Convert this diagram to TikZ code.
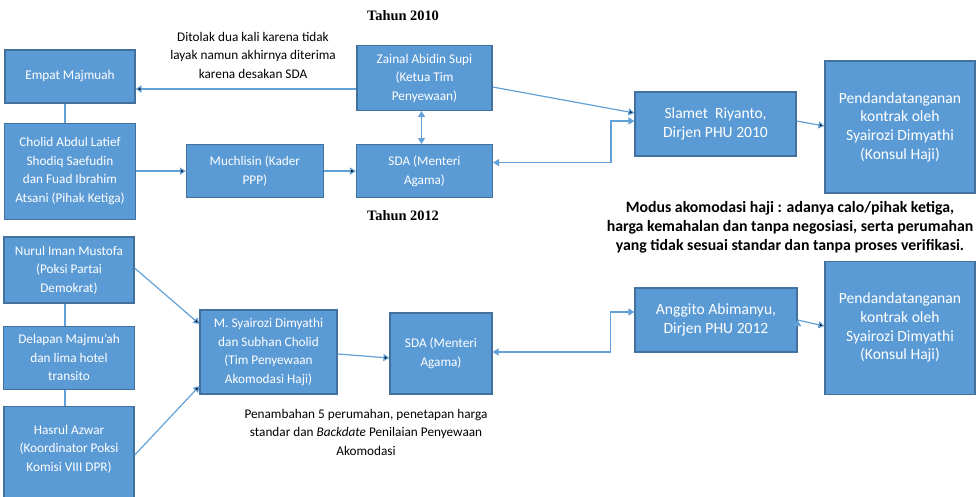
\documentclass[tikz,border=0pt]{standalone}
\usepackage{fontspec}
\setmainfont{Carlito}
\newfontfamily\yearfont{Liberation Serif}
\usetikzlibrary{arrows.meta,positioning}

\definecolor{boxfill}{RGB}{91,155,213}
\definecolor{boxline}{RGB}{65,113,156}
\definecolor{linkline}{RGB}{98,160,216}

\begin{document}
\begin{tikzpicture}[x=1pt,y=-1pt,>={Triangle[length=6pt,width=7pt]},
		every node/.style={font=\fontsize{13.25}{18.5}\selectfont,align=center},
		box/.style={draw=boxline,line width=1.1pt,fill=boxfill,text=white,inner sep=2pt},
		bigtext/.style={font=\fontsize{15.6}{18.7}\selectfont},
		link/.style={draw=linkline,line width=1.2pt},
		year/.style={font=\yearfont\bfseries\fontsize{14.4}{17}\selectfont}]
		 \useasboundingbox (0,0) rectangle (977,497);
		 % Tahun 2010
		 \node[box,minimum width=130pt,minimum height=53pt]           (empat)                        at (70,76.5)     {Empat Majmuah};
		 \node[box,minimum width=131pt,minimum height=96pt]           (cholid)    [below=19pt of empat]                  {Cholid Abdul Latief\\Shodiq Saefudin\\dan Fuad Ibrahim\\Atsani (Pihak Ketiga)};
		 \node[box,minimum width=135pt,minimum height=65pt]           (zainal)                       at (424.5,78)    {Zainal Abidin Supi\\(Ketua Tim\\Penyewaan)};
		 \node[box,minimum width=136pt,minimum height=53pt]           (sda1)      [below=33pt of zainal]                 {SDA (Menteri\\Agama)};
		 \node[box,minimum width=137pt,minimum height=53pt]           (muchlisin) [left=32pt of sda1]                    {Muchlisin (Kader\\PPP)};
		 \node[box,bigtext,minimum width=161pt,minimum height=64pt]   (slamet)                       at (715.5,124)   {Slamet\ \ Riyanto,\\Dirjen PHU 2010};
		 \node[box,bigtext,minimum width=150pt,minimum height=132pt]  (pend1)                        at (900,127)     {Pendandatanganan\\kontrak oleh\\Syairozi Dimyathi\\(Konsul Haji)};
		 % Tahun 2012
		 \node[box,minimum width=130pt,minimum height=66pt]           (nurul)                        at (69,270)      {Nurul Iman Mustofa\\(Poksi Partai\\Demokrat)};
		 \node[box,minimum width=131pt,minimum height=63pt]           (delapan)   [below=22pt of nurul]                  {Delapan Majmu’ah\\dan lima hotel\\transito};
		 \node[box,minimum width=130pt,minimum height=123pt]          (hasrul)    [below=16pt of delapan]                {\raisebox{15.2pt}[0pt][0pt]{\begin{tabular}{@{}c@{}}Hasrul Azwar\\(Koordinator Poksi\\Komisi VIII DPR)\end{tabular}}};
		 \node[box,minimum width=137pt,minimum height=84pt]           (syairozi)                     at (268.5,352)   {M. Syairozi Dimyathi\\dan Subhan Cholid\\(Tim Penyewaan\\Akomodasi Haji)};
		 \node[box,minimum width=102pt,minimum height=81pt]           (sda2)                         at (441,353.5)   {SDA (Menteri\\Agama)};
		 \node[box,bigtext,minimum width=162pt,minimum height=64pt]   (anggito)                      at (716,320)     {Anggito Abimanyu,\\Dirjen PHU 2012};
		 \node[box,bigtext,minimum width=150pt,minimum height=133pt]  (pend2)     [below=67pt of pend1]                  {Pendandatanganan\\kontrak oleh\\Syairozi Dimyathi\\(Konsul Haji)};
		 % labels
		 \node[year]                                                   (tahun1)                       at (403,16)      {Tahun 2010};
		 \node[year]                                                   (tahun2)                       at (403,216)     {Tahun 2012};
		 \node                                                         (tolak)                        at (253,55)      {Ditolak dua kali karena tidak\\layak namun akhirnya diterima\\karena desakan SDA};
		 \node[font=\bfseries\fontsize{15.8}{19}\selectfont]          (modus)                        at (790,227)     {Modus akomodasi haji : adanya calo/pihak ketiga,\\harga kemahalan dan tanpa negosiasi, serta perumahan\\yang tidak sesuai standar dan tanpa proses verifikasi.};
		 \node                                                         (tambah)                       at (366,432)     {Penambahan 5 perumahan, penetapan harga\\standar dan \textit{Backdate} Penilaian Penyewaan\\Akomodasi};

		 \path[link,->]	([yshift=-11pt]zainal.west)	edge	([yshift=-12.5pt]empat.east)
		 			(cholid.east |- muchlisin)	edge	(muchlisin)
					(muchlisin)	edge	(sda1)
					([yshift=-9pt]zainal.east)	edge	([yshift=11pt]slamet.west)
					([yshift=3pt]slamet.east)	edge	([yshift=1pt]pend1.west)
					([yshift=2pt]nurul.east)	edge	([yshift=28pt]syairozi.west)
					([yshift=12.5pt]hasrul.east)	edge	([yshift=-34pt]syairozi.west)
					([yshift=-2pt]syairozi.east)	edge	([yshift=-4.5pt]sda2.west)
					(anggito.east)	edge	([yshift=1.5pt]pend2.west);
		 \path[link]	([xshift=-5pt]empat.south)	edge	([xshift=-5pt]empat.south |- cholid.north)
					([xshift=-4pt]nurul.south)	edge	([xshift=-4pt]nurul.south |- delapan.north)
					([xshift=-4pt]delapan.south)	edge	([xshift=-4pt]delapan.south |- hasrul.north);
		 \draw[link,<->] ([xshift=-3pt]zainal.south) -- ([xshift=-3pt]zainal.south |- sda1.north);
		 \draw[link,<->] ([yshift=8.5pt]sda1.east) -- ++(118,0) |- ([yshift=3pt]slamet.west);
		 \draw[link,<->] ([yshift=1.5pt]sda2.east) -- ++(118,0) |- ([yshift=8pt]anggito.west);
	\end{tikzpicture}
\end{document}
